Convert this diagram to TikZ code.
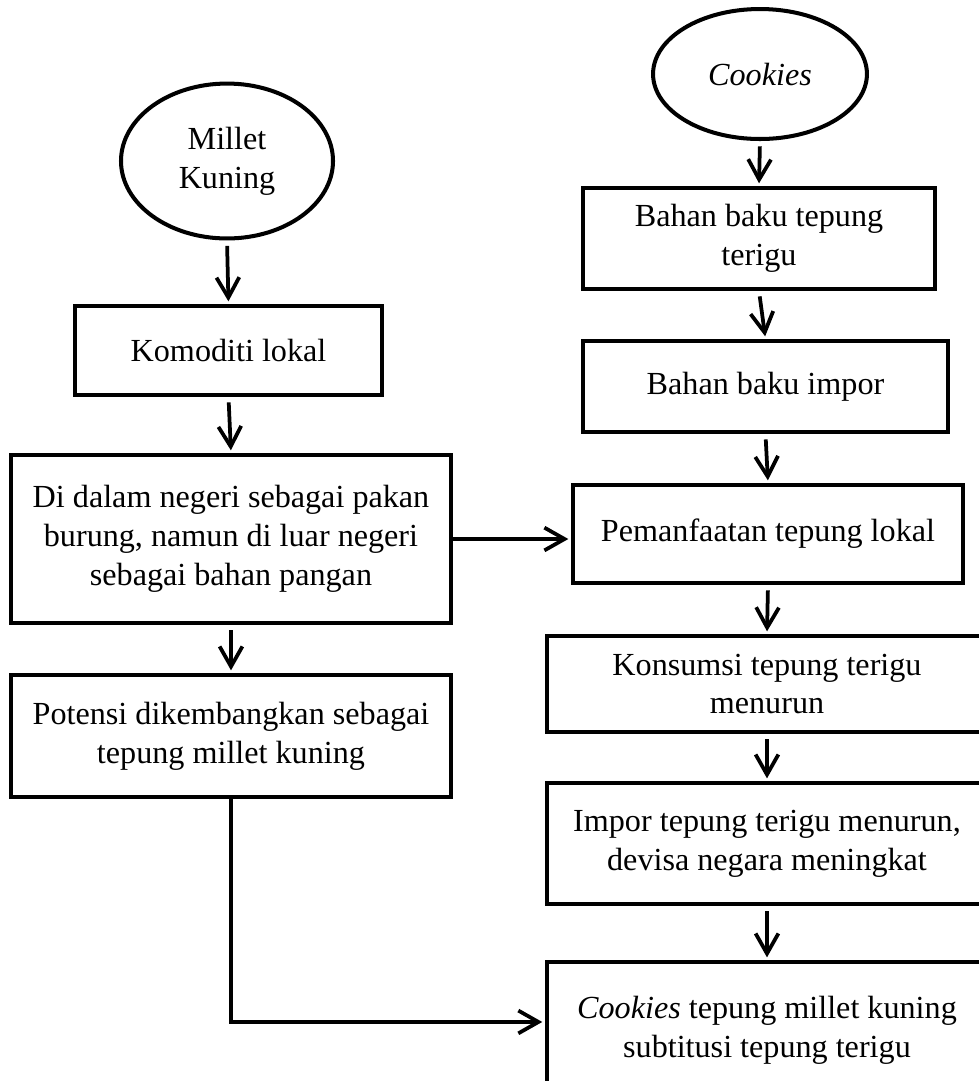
\documentclass[tikz,border=0pt]{standalone}
\usepackage{fontspec}
\setmainfont{Liberation Serif}
\usetikzlibrary{shapes.geometric, arrows.meta}

\begin{document}
\begin{tikzpicture}[x=0.3731pt, y=-0.3731pt,
    box/.style={draw, rectangle, line width=1.5pt, inner sep=0pt, align=center, font={\fontsize{12}{14.5}\selectfont}},
    oval/.style={draw, ellipse, line width=1.5pt, inner sep=0pt, align=center, font={\fontsize{12}{14.5}\selectfont}},
    arr/.style={-{Straight Barb[length=7.5pt, width=8.5pt]}, line width=1.4pt, shorten <=2pt, shorten >=1pt}]

    % Page frame (right and bottom boxes run off the page)
    \useasboundingbox (0,0) rectangle (979,1081);
    \clip (0,0) rectangle (979,1081);

    % Left column
    \node[oval, minimum width=79.1pt, minimum height=57.8pt] (millet) at (227,161) {Millet\\Kuning};
    \node[box, minimum width=114.6pt, minimum height=33.2pt] (komoditi) at (228.5,350.5) {Komoditi lokal};
    \node[box, minimum width=164.2pt, minimum height=62.7pt] (didalam) at (231,539) {Di dalam negeri sebagai pakan\\burung, namun di luar negeri\\sebagai bahan pangan};
    \node[box, minimum width=164.2pt, minimum height=45.5pt] (potensi) at (231,736) {Potensi dikembangkan sebagai\\tepung millet kuning};

    % Right column
    \node[oval, minimum width=79.8pt, minimum height=48.5pt] (cookies) at (760,74) {\textit{Cookies}};
    \node[box, minimum width=131.3pt, minimum height=37.7pt] (bahan) at (759,238.5) {Bahan baku tepung\\terigu};
    \node[box, minimum width=136.2pt, minimum height=34pt] (impor) at (765.5,386.5) {Bahan baku impor};
    \node[box, minimum width=145.5pt, minimum height=36.6pt] (manfaat) at (768,534) {Pemanfaatan tepung lokal};
    \node[box, minimum width=164.2pt, minimum height=35.8pt] (konsumsi) at (767,684) {Konsumsi tepung terigu\\menurun};
    \node[box, minimum width=164.2pt, minimum height=45.1pt] (importurun) at (767,843.5) {Impor tepung terigu menurun,\\devisa negara meningkat};
    \node[box, minimum width=164.2pt, minimum height=50.7pt] (hasil) at (767,1030) {\textit{Cookies} tepung millet kuning\\subtitusi tepung terigu};

    % Arrows, left column
    \draw[arr] (millet.south) -- (komoditi.north);
    \draw[arr] (komoditi.south) -- (didalam.north);
    \draw[arr] (didalam.south) -- (potensi.north);

    % Arrows, right column
    \draw[arr] (cookies.south) -- (bahan.north);
    \draw[arr] (bahan.south) -- (impor.north);
    \draw[arr] (impor.south) -- (manfaat.north);
    \draw[arr] (manfaat.south) -- (konsumsi.north);
    \draw[arr] (konsumsi.south) -- (importurun.north);
    \draw[arr] (importurun.south) -- (hasil.north);

    % Cross links
    \draw[arr, shorten <=0pt] (didalam.east) -- (didalam.east -| manfaat.west);
    \draw[arr, shorten <=0pt] (potensi.south) |- ([yshift=3pt]hasil.west);
\end{tikzpicture}
\end{document}
